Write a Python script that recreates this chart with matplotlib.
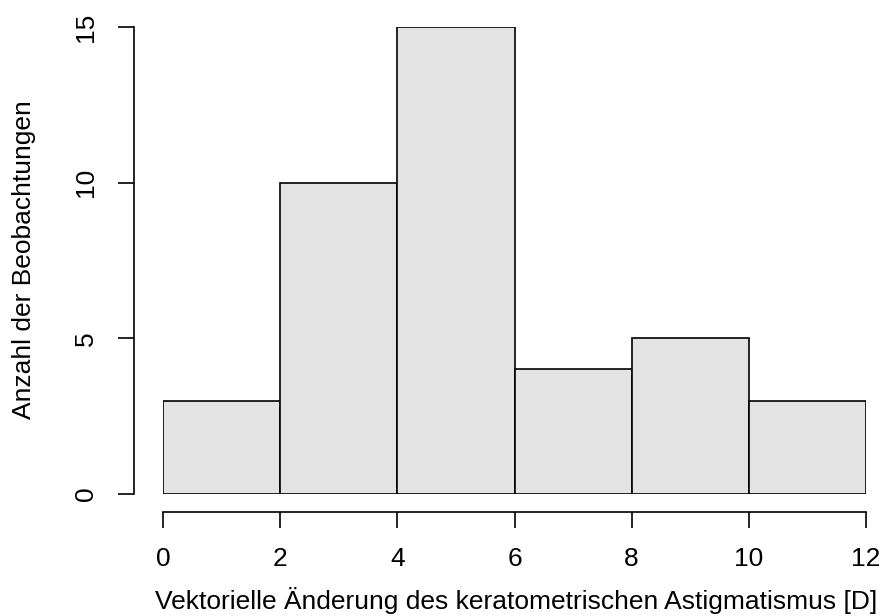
import numpy as np
import matplotlib.pyplot as plt

plt.rcParams['font.family'] = ['Liberation Sans', 'DejaVu Sans']

# histogram data: bin edges and counts
bin_edges = [0, 2, 4, 6, 8, 10, 12]
counts = [3, 10, 15, 4, 5, 3]
x_ticks = [0, 2, 4, 6, 8, 10, 12]
y_ticks = [0, 5, 10, 15]

W, H = 884, 616
px = 72 / 100  # pixels -> points
fig = plt.figure(figsize=(W / 100, H / 100), dpi=100)
ax = fig.add_axes([163 / W, 1 - 494 / H, (866 - 163) / W, (494 - 27) / H])

lefts = np.array(bin_edges[:-1])
widths = np.diff(bin_edges)
ax.bar(lefts, counts, width=widths, align='edge', color='#e3e3e3',
       edgecolor='black', linewidth=1.2)

ax.set_xlim(0, 12)
ax.set_ylim(0, 15)
for s in ['top', 'right']:
    ax.spines[s].set_visible(False)
ax.spines['bottom'].set_position(('outward', 18 * px))
ax.spines['left'].set_position(('outward', 29 * px))
ax.spines['bottom'].set_bounds(0, 12)
ax.spines['left'].set_bounds(0, 15)
for s in ['bottom', 'left']:
    ax.spines[s].set_linewidth(1.2)

ax.set_xticks(x_ticks)
ax.set_yticks(y_ticks)
ax.tick_params(length=16 * px, width=1.2, labelsize=19)
ax.tick_params(axis='x', pad=19 * px)
ax.tick_params(axis='y', pad=20 * px)
for lab in ax.get_yticklabels():
    lab.set_rotation(90)
    lab.set_va('center')

fig.text(516 / W, 1 - 601 / H,
         'Vektorielle Änderung des keratometrischen Astigmatismus [D]',
         fontsize=19, ha='center', va='center')
fig.text(24 / W, 1 - 260 / H, 'Anzahl der Beobachtungen',
         fontsize=19, ha='center', va='center', rotation=90)

fig.savefig('out.png', dpi=100)
